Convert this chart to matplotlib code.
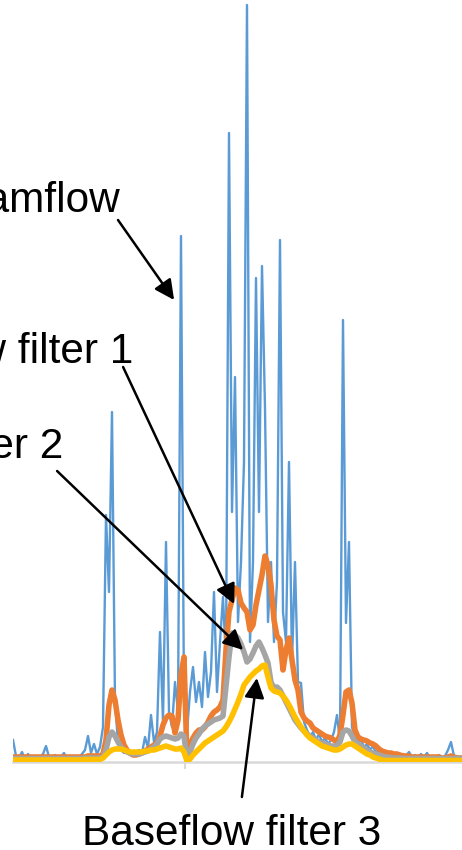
import numpy as np
import matplotlib.pyplot as plt

plt.rcParams['font.family'] = ['Liberation Sans', 'DejaVu Sans']

# daily flows (m3/s)
streamflow = [
    2.2, 0.6, 0.4, 1.0, 0.3, 0.8, 0.3, 0.6, 0.4, 0.5,
    0.8, 1.6, 0.5, 0.4, 0.7, 0.3, 0.5, 0.9, 0.3, 0.4,
    0.3, 0.6, 0.5, 0.8, 1.2, 2.6, 0.9, 1.8, 0.8, 1.5,
    3.5, 24.7, 17.0, 35.0, 6.0, 2.0, 1.2, 0.9, 1.3, 0.7,
    0.8, 0.6, 1.2, 0.9, 2.5, 1.4, 4.7, 2.0, 3.0, 13.0,
    4.0, 22.0, 5.0, 3.5, 8.0, 5.0, 52.6, 6.0, 3.0, 7.0,
    9.5, 6.0, 8.0, 5.5, 11.0, 6.5, 9.0, 17.0, 7.0, 12.0,
    16.5, 10.0, 62.9, 25.0, 38.5, 14.0, 20.0, 30.0, 75.7, 12.0,
    20.0, 48.4, 25.0, 49.6, 35.4, 14.0, 20.0, 12.0, 18.0, 52.2,
    15.0, 12.0, 30.0, 10.0, 20.0, 8.0, 7.9, 4.0, 3.2, 2.5,
    3.0, 2.2, 2.8, 2.0, 2.4, 1.8, 2.2, 3.0, 4.7, 2.0,
    44.2, 13.9, 22.0, 3.5, 2.5, 2.0, 2.2, 1.5, 1.8, 1.2,
    1.6, 0.9, 1.3, 0.8, 1.1, 0.7, 1.0, 0.6, 0.9, 0.5,
    0.8, 0.6, 1.0, 0.5, 0.7, 0.4, 0.8, 0.5, 0.9, 0.4,
    0.6, 0.5, 0.7, 0.4, 0.6, 1.2, 2.0, 0.6, 0.4, 0.5,
]

baseflow_1 = [
    0.5, 0.5, 0.5, 0.5, 0.5, 0.5, 0.5, 0.5, 0.5, 0.5,
    0.5, 0.5, 0.5, 0.5, 0.5, 0.5, 0.5, 0.5, 0.5, 0.5,
    0.5, 0.5, 0.5, 0.5, 0.5, 0.6, 0.6, 0.6, 0.6, 0.6,
    0.8, 2.2, 5.7, 7.2, 6.2, 4.2, 2.7, 1.7, 1.2, 0.9,
    0.7, 0.7, 0.8, 0.9, 1.1, 1.3, 1.5, 1.7, 1.9, 2.6,
    3.7, 4.4, 4.7, 4.6, 2.9, 4.2, 8.7, 10.5, 0.2, 1.7,
    2.4, 2.9, 3.2, 3.2, 3.5, 4.0, 4.6, 5.0, 5.2, 5.5,
    6.2, 11.2, 15.0, 16.2, 17.4, 17.2, 15.9, 15.4, 15.0, 13.2,
    13.7, 15.7, 17.2, 18.7, 20.6, 19.7, 17.7, 14.2, 12.6, 12.2,
    9.2, 11.2, 12.4, 10.2, 8.2, 7.2, 5.0, 4.4, 4.1, 3.9,
    3.4, 3.2, 3.0, 2.8, 2.6, 2.5, 2.4, 2.2, 2.0, 2.7,
    4.7, 7.0, 7.2, 5.9, 3.2, 2.5, 2.3, 2.2, 2.1, 1.9,
    1.8, 1.6, 1.3, 1.1, 1.0, 0.9, 0.9, 0.8, 0.8, 0.7,
    0.6, 0.6, 0.6, 0.5, 0.5, 0.5, 0.5, 0.5, 0.5, 0.5,
    0.5, 0.5, 0.5, 0.4, 0.4, 0.5, 0.6, 0.5, 0.4, 0.4,
]

baseflow_2 = [
    0.35, 0.35, 0.35, 0.35, 0.35, 0.35, 0.35, 0.35, 0.35, 0.35,
    0.35, 0.35, 0.35, 0.35, 0.35, 0.35, 0.35, 0.35, 0.35, 0.35,
    0.35, 0.35, 0.35, 0.35, 0.4, 0.4, 0.4, 0.4, 0.4, 0.4,
    0.5, 1.2, 2.5, 3.0, 2.6, 2.0, 1.5, 1.2, 1.0, 0.9,
    0.8, 0.8, 0.8, 0.9, 1.0, 1.1, 1.3, 1.5, 1.8, 2.3,
    2.5, 2.6, 2.5, 2.4, 2.3, 2.4, 2.8, 2.6, 0.2, 1.0,
    1.8, 2.4, 2.8, 3.3, 3.6, 3.8, 4.0, 4.2, 4.3, 4.4,
    4.6, 7.5, 10.5, 12.9, 12.7, 12.4, 11.8, 11.0, 10.0, 10.3,
    10.9, 11.6, 12.0, 11.4, 10.7, 9.9, 8.0, 7.4, 7.5, 7.2,
    6.6, 6.0, 5.4, 4.8, 4.2, 3.8, 3.4, 3.1, 2.8, 2.6,
    2.4, 2.2, 2.0, 1.9, 1.8, 1.7, 1.6, 1.6, 1.6, 2.0,
    3.0, 3.2, 3.1, 2.6, 2.0, 1.8, 1.6, 1.4, 1.2, 1.0,
    0.9, 0.8, 0.7, 0.6, 0.5, 0.5, 0.4, 0.4, 0.4, 0.4,
    0.35, 0.35, 0.35, 0.35, 0.35, 0.35, 0.35, 0.35, 0.35, 0.35,
    0.35, 0.35, 0.35, 0.35, 0.35, 0.35, 0.35, 0.35, 0.35, 0.35,
]

baseflow_3 = [
    0.2, 0.2, 0.2, 0.2, 0.2, 0.2, 0.2, 0.2, 0.2, 0.2,
    0.2, 0.2, 0.2, 0.2, 0.2, 0.2, 0.2, 0.2, 0.2, 0.2,
    0.2, 0.2, 0.2, 0.2, 0.25, 0.25, 0.25, 0.25, 0.25, 0.25,
    0.4, 0.7, 1.0, 1.2, 1.3, 1.3, 1.3, 1.2, 1.1, 1.0,
    1.0, 1.0, 1.0, 1.0, 1.1, 1.1, 1.2, 1.2, 1.3, 1.4,
    1.5, 1.6, 1.5, 1.4, 1.3, 1.3, 1.4, 1.0, 0.1, 0.3,
    0.7, 1.0, 1.3, 1.6, 1.9, 2.1, 2.3, 2.5, 2.7, 2.9,
    3.1, 3.5, 4.0, 4.6, 5.3, 6.0, 6.8, 7.7, 8.1, 8.5,
    8.8, 9.1, 9.3, 9.6, 9.7, 8.5, 7.4, 7.1, 7.0, 6.9,
    6.6, 6.2, 5.7, 5.1, 4.5, 4.0, 3.5, 3.1, 2.7, 2.4,
    2.2, 2.0, 1.8, 1.6, 1.5, 1.4, 1.3, 1.2, 1.2, 1.3,
    1.5, 1.7, 1.8, 1.8, 1.6, 1.4, 1.2, 1.0, 0.8, 0.7,
    0.5, 0.4, 0.3, 0.2, 0.15, 0.15, 0.15, 0.15, 0.15, 0.15,
    0.15, 0.15, 0.15, 0.15, 0.15, 0.15, 0.15, 0.15, 0.15, 0.15,
    0.15, 0.15, 0.15, 0.15, 0.15, 0.15, 0.15, 0.15, 0.15, 0.15,
]

days = np.arange(len(streamflow))

fig = plt.figure(figsize=(4.62, 8.5), dpi=100)
ax = fig.add_axes([13 / 462, 88 / 850, 449 / 462, 762 / 850])

ax.plot(days, streamflow, color='#5B9BD5', lw=1.7)
ax.plot(days, baseflow_1, color='#ED7D31', lw=4.0)
ax.plot(days, baseflow_2, color='#A5A5A5', lw=4.0)
ax.plot(days, baseflow_3, color='#FFC000', lw=4.0)

ax.set_xlim(0, 149.67)
ax.set_ylim(0, 76.2)

# only the zero line stays, with a single tick at the year break
for side in ['left', 'top', 'right']:
    ax.spines[side].set_visible(False)
ax.spines['bottom'].set_color('#D9D9D9')
ax.spines['bottom'].set_linewidth(1.8)
ax.spines['bottom'].set_zorder(0)
ax.set_yticks([])
ax.set_xticks([57.5])
ax.set_xticklabels([])
ax.tick_params(axis='x', direction='out', length=5, width=1.5, color='#D9D9D9')

arrow = dict(arrowstyle='-|>,head_length=0.6,head_width=0.3', color='black',
             lw=1.8, shrinkA=0, shrinkB=0, mutation_scale=20)

labels = ['Streamflow', 'Baseflow filter 1', 'Baseflow filter 2', 'Baseflow filter 3']
label_xy = [(35.7, 55.0), (40.0, 39.9), (16.7, 30.4), (73.0, -8.3)]
label_ha = ['right', 'right', 'right', 'center']
tails = [(35.0, 54.2), (36.7, 39.5), (14.7, 29.1), (76.3, -3.5)]
tips = [(53.7, 46.2), (73.7, 15.8), (76.7, 11.2), (81.3, 8.4)]

for text, pos, ha, tail, tip in zip(labels, label_xy, label_ha, tails, tips):
    ax.text(pos[0], pos[1], text, ha=ha, va='baseline', fontsize=30.5, clip_on=False)
    ax.annotate('', xy=tip, xytext=tail, arrowprops=arrow, annotation_clip=False)

plt.savefig('out.png', dpi=100)
